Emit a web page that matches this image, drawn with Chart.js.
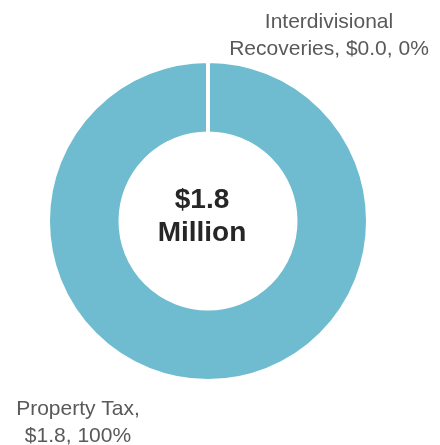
<!DOCTYPE html>
<html>
<head>
<meta charset="utf-8">
<style>
  html, body { margin: 0; padding: 0; background: #ffffff; }
  #wrap { width: 440px; height: 445px; position: relative; }
  canvas { display: block; }
</style>
<script src="https://cdn.jsdelivr.net/npm/chart.js@4/dist/chart.umd.min.js"></script>
</head>
<body>
<div id="wrap"><canvas id="c" width="440" height="445"></canvas></div>
<script>
// ---- data ----
const categories = ['Property Tax', 'Interdivisional Recoveries'];
const values = [1.8, 0.0];          // $ millions
const percents = [100, 0];          // % of total
const labelLines = [
  ['Property Tax,', '$1.8, 100%'],
  ['Interdivisional', 'Recoveries, $0.0, 0%']
];
const centerLines = ['$1.8', 'Million'];

// ---- styles ----
const ringColor = '#6FBCD0';
const labelColor = '#595959';
const centerColor = '#262626';
const labelFont = '21px "Liberation Sans", Arial, sans-serif';
const centerFont = 'bold 28px "Liberation Sans", Arial, sans-serif';

const labelPlugin = {
  id: 'labelPlugin',
  afterDraw(chart) {
    const ctx = chart.ctx;
    const arc = chart.getDatasetMeta(0).data[0];
    const cx = arc.x, cy = arc.y;
    ctx.save();
    // centre total
    ctx.fillStyle = centerColor;
    ctx.font = centerFont;
    ctx.textAlign = 'center';
    ctx.textBaseline = 'alphabetic';
    ctx.fillText(centerLines[0], cx - 6, cy - 13);
    ctx.fillText(centerLines[1], cx - 6, cy + 20);
    // slice labels
    ctx.fillStyle = labelColor;
    ctx.font = labelFont;
    const pos = [
      { x: cx - 130, y: cy + 194 },   // Property Tax (bottom-left)
      { x: cx + 121, y: cy - 193 }    // Interdivisional (top-right)
    ];
    labelLines.forEach((lines, i) => {
      lines.forEach((t, j) => {
        ctx.fillText(t, pos[i].x, pos[i].y + j * 27);
      });
    });
    ctx.restore();
  }
};

new Chart(document.getElementById('c'), {
  type: 'doughnut',
  data: {
    labels: categories,
    datasets: [{
      data: values,
      backgroundColor: [ringColor, ringColor],
      borderColor: '#ffffff',
      borderWidth: 4,
      hoverOffset: 0,
      offset: 0
    }]
  },
  options: {
    responsive: false,
    animation: false,
    radius: 160,
    cutout: '54.7%',
    rotation: 0,
    layout: { padding: { left: 48, right: 72, top: 61, bottom: 64 } },
    plugins: {
      legend: { display: false },
      tooltip: { enabled: false }
    }
  },
  plugins: [labelPlugin]
});
</script>
</body>
</html>
